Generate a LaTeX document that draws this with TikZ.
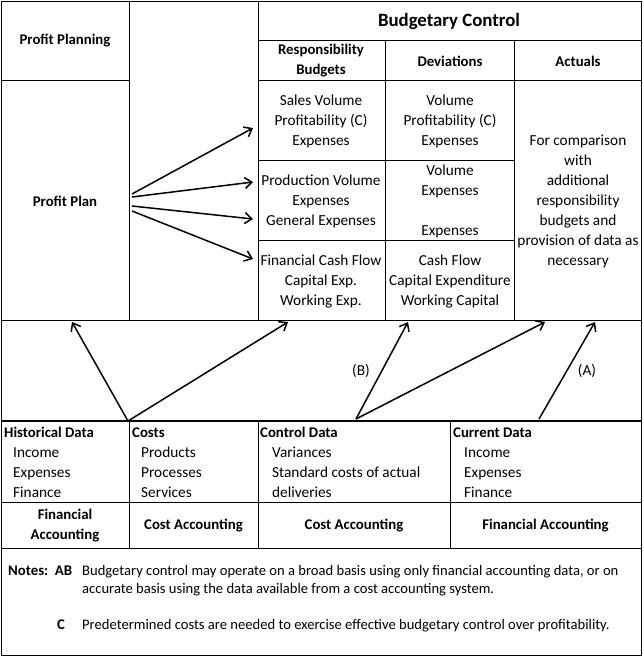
\documentclass[tikz,border=0pt]{standalone}
\usepackage{fontspec}
\setmainfont{Carlito}
\usetikzlibrary{arrows.meta}
\usetikzlibrary{positioning}

\begin{document}
\begin{tikzpicture}[x=1pt, y=-1pt,
    every node/.style={inner sep=0pt, align=center, font=\fontsize{15.3}{20}\selectfont},
    hd/.style={font=\fontsize{14.8}{20}\selectfont\bfseries},
    lst/.style={align=left, anchor=base west},
    note/.style={font=\fontsize{14.6}{18}\selectfont},
    rule/.style={line width=0.8pt},
    arr/.style={-{Straight Barb[length=7pt, width=11pt]}, line width=1.5pt}]

\useasboundingbox (0,0) rectangle (644,657);

% frame and table rules
\draw[rule] (1,1) rectangle (641,655);
\foreach \x in {129,258}
  \draw[rule] (\x,1) -- (\x,320);
\draw[rule] (1,80) -- (129,80);
\draw[rule] (258,40) -- (641,40);
\draw[rule] (258,80) -- (641,80);
\foreach \x in {385,514}
  \draw[rule] (\x,40) -- (\x,320);
\foreach \y in {160,240}
  \draw[rule] (258,\y) -- (514,\y);
\draw[rule] (1,320) -- (641,320);
\draw[line width=1.8pt] (1,421) -- (641,421);
\draw[rule] (1,502) -- (641,502);
\draw[rule] (1,548) -- (641,548);
\foreach \x in {129,258,450}
  \draw[rule] (\x,421) -- (\x,548);

% headings
\node[hd] (planning) at (65,41) {Profit Planning};
\node[hd] (plan) at (65,201) {Profit Plan};
\node[font=\fontsize{18.8}{20}\selectfont\bfseries] (control) at (449,21) {Budgetary Control};
\node[hd] (respons) at (321,61) {Responsibility\\Budgets};
\node[hd] (deviat) at (450,61) {Deviations};
\node[hd] (actual) at (578,61) {Actuals};

% responsibility budgets
\node (rb1) at (321,121) {Sales Volume\\Profitability (C)\\Expenses};
\node (rb2) at (321,201) {Production Volume\\Expenses\\General Expenses};
\node (rb3) at (321,281) {Financial Cash Flow\\Capital Exp.\\Working Exp.};

% deviations
\node (dv1) at (450,121) {Volume\\Profitability (C)\\Expenses};
\node (dv2) at (450,201) {Volume\\Expenses\\[20pt]Expenses};
\node (dv3) at (450,281) {Cash Flow\\Capital Expenditure\\Working Capital};

% actuals
\node (ac) at (578,201) {For comparison\\with\\additional\\responsibility\\budgets and\\provision of data as\\necessary};

% data sources
\node[lst, hd] (hist) at (4,437) {Historical Data};
\node[lst] (histl) at (13,497) {Income\\Expenses\\Finance};
\node[lst, hd] (cost) at (132,437) {Costs};
\node[lst] (costl) at (141,497) {Products\\Processes\\Services};
\node[lst, hd] (ctrl) at (260,437) {Control Data};
\node[lst] (ctrll) at (272,497) {Variances\\Standard costs of actual\\deliveries};
\node[lst, hd] (curr) at (453,437) {Current Data};
\node[lst] (currl) at (464,497) {Income\\Expenses\\Finance};

% accounting systems
\node[hd] (fa1) at (65,526) {Financial\\Accounting};
\node[hd] (ca1) at (193.5,526) {Cost Accounting};
\node[hd] (ca2) at (354,526) {Cost Accounting};
\node[hd] (fa2) at (545.5,526) {Financial Accounting};

% notes
\node[lst, hd] (notes) at (8,575) {Notes:\ \ AB};
\node[lst, note] (noteab) at (82,593) {Budgetary control may operate on a broad basis using only financial accounting data, or on\\accurate basis using the data available from a cost accounting system.};
\node[lst, hd] (notec) at (57,629) {C};
\node[lst, note] (notecc) at (82,629) {Predetermined costs are needed to exercise effective budgetary control over profitability.};

% arrows from the profit plan
\foreach \s/\e [count=\i] in {194/128, 197/182, 206/219, 211/259} {
  \coordinate (out\i) at (132,\s);
  \coordinate (in\i) at (253,\e);
  \draw[arr] (out\i) -- (in\i);
}

% arrows up from the data
\coordinate (histup) at (128,421);
\coordinate (ctrlup) at (356,419);
\coordinate (currup) at (539,419);
\coordinate (t1) at (72,322);
\coordinate (t2) at (288,322);
\coordinate (t3) at (408,322);
\coordinate (t4) at (545,322);
\coordinate (t5) at (595,322);
\draw[arr] (histup) -- (t1);
\draw[arr] (histup) -- (t2);
\draw[arr] (ctrlup) -- (t3);
\draw[arr] (ctrlup) -- (t4);
\draw[arr] (currup) -- (t5);
\node (labb) at (361,371) {(B)};
\node (laba) at (587,371) {(A)};

\end{tikzpicture}
\end{document}
